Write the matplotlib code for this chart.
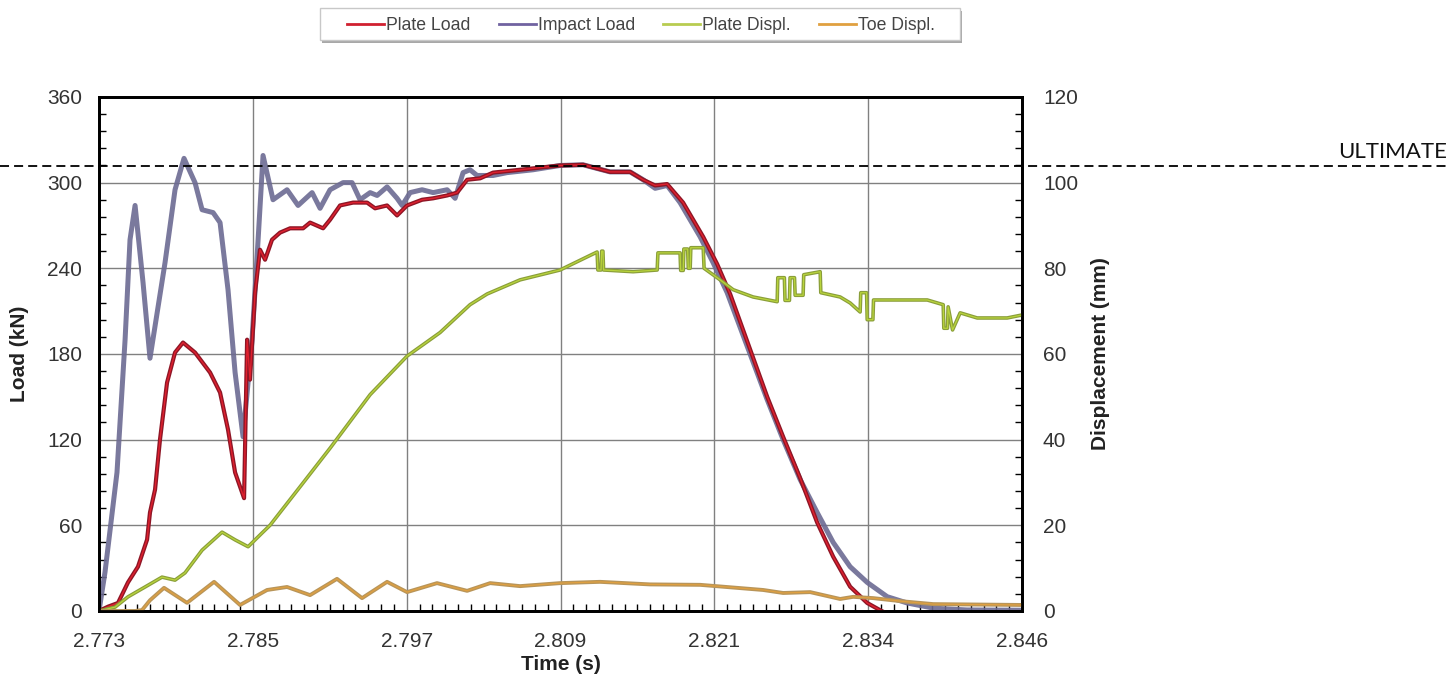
import numpy as np
import matplotlib.pyplot as plt
from matplotlib.patches import Rectangle
from matplotlib.ticker import FixedLocator, MultipleLocator
from matplotlib.transforms import blended_transform_factory, offset_copy

plt.rcParams["font.family"] = ["Liberation Sans", "DejaVu Sans"]

# ---- data ----
T_MIN, T_MAX = 2.773, 2.846
time_ticks = ["2.773", "2.785", "2.797", "2.809", "2.821", "2.834", "2.846"]
ULTIMATE_KN = 311.5

impact_t = [2.7730, 2.77347, 2.77442, 2.77506, 2.77545, 2.77585, 2.77648, 2.77703,
            2.77822, 2.77901, 2.77972, 2.78059, 2.78115, 2.78202, 2.78257, 2.78320,
            2.78376, 2.78439, 2.78510, 2.78558, 2.78597, 2.78676, 2.78787, 2.78874,
            2.78985, 2.79048, 2.79127, 2.79230, 2.79301, 2.79364, 2.79444, 2.79499,
            2.79578, 2.79657, 2.79697, 2.79760, 2.79855, 2.79942, 2.80053, 2.80116,
            2.80179, 2.80234, 2.80290, 2.80416, 2.80527, 2.80733, 2.80946, 2.81128,
            2.81342, 2.81500, 2.81603, 2.81698, 2.81793, 2.81895, 2.82054, 2.82156,
            2.82267, 2.82584, 2.82710, 2.82845, 2.82979, 2.83106, 2.83240, 2.83375,
            2.83533, 2.83691, 2.83897, 2.84165, 2.8460]
impact_kn = [0, 27, 97, 190, 260, 284, 230, 177,
             244, 295, 317, 300, 281, 279, 272, 225,
             167, 122, 190, 260, 319, 288, 295, 284,
             293, 282, 295, 300, 300, 288, 293, 291,
             297, 289, 284, 293, 295, 293, 295, 289,
             307, 309, 305, 305, 307, 309, 312, 312.5,
             307.5, 307.5, 302, 296, 298, 286, 262, 244,
             223, 148, 120, 92, 69, 48, 31, 20,
             10, 5.6, 2, 0.7, 0.5]

plate_t = [2.7730, 2.77371, 2.77450, 2.77529, 2.77608, 2.77680, 2.77703, 2.77743,
           2.77782, 2.77838, 2.77901, 2.77964, 2.78059, 2.78178, 2.78257, 2.78320,
           2.78376, 2.78447, 2.78471, 2.78494, 2.78534, 2.78573, 2.78613, 2.78668,
           2.78732, 2.78811, 2.78914, 2.78969, 2.79072, 2.79127, 2.79206, 2.79309,
           2.79420, 2.79483, 2.79578, 2.79657, 2.79736, 2.79855, 2.79942, 2.80053,
           2.80132, 2.80211, 2.80314, 2.80416, 2.80630, 2.80946, 2.81128, 2.81342,
           2.81500, 2.81603, 2.81698, 2.81793, 2.81919, 2.82078, 2.82188, 2.82291,
           2.82584, 2.82710, 2.82845, 2.82979, 2.83106, 2.83240, 2.83375, 2.83478,
           2.83556]
plate_kn = [0, 3, 5.6, 20, 31, 50, 69, 85,
            120, 160, 181, 188, 181, 167, 153, 127,
            97, 79, 190, 162, 223, 253, 246, 260,
            265, 268, 268, 272, 268, 274, 284, 286,
            286, 282, 284, 277, 284, 288, 289, 291,
            293, 302, 303, 307, 309, 312, 312.5, 307.5,
            307.5, 302, 298, 299, 286, 262, 243, 222,
            150, 122, 93, 62, 38, 17, 5.6, 0.5,
            -3]

plate_disp_t = [2.7730, 2.77427, 2.77529, 2.77664, 2.77798, 2.77901, 2.77980, 2.78115,
                2.78273, 2.78376, 2.78479, 2.78589, 2.78652, 2.78890, 2.79127, 2.79444,
                2.79736, 2.79997, 2.80234, 2.80369, 2.80630, 2.80946, 2.81239, 2.81245,
                2.81270, 2.81275, 2.81285, 2.81290, 2.81524, 2.81714, 2.81720, 2.81895,
                2.81900, 2.81920, 2.81925, 2.81955, 2.81960, 2.81975, 2.81980, 2.82078,
                2.82085, 2.82212, 2.82315, 2.82473, 2.82663, 2.82668, 2.82720, 2.82725,
                2.82760, 2.82765, 2.82800, 2.82805, 2.82868, 2.82873, 2.83003, 2.83008,
                2.83161, 2.83240, 2.83319, 2.83324, 2.83370, 2.83375, 2.83420, 2.83425,
                2.83850, 2.83976, 2.83981, 2.84010, 2.84015, 2.84050, 2.84110, 2.84245,
                2.84482, 2.8460]
plate_disp_mm = [0, 0.9, 3.3, 5.6, 7.9, 7.2, 8.9, 14.2,
                 18.4, 16.6, 15.0, 18.2, 20, 29, 38, 50.5,
                 59.5, 65, 71.5, 74, 77.3, 79.6, 83.8, 79.6,
                 79.6, 84, 84, 79.6, 79.2, 79.6, 83.6, 83.6,
                 79.5, 79.5, 84.5, 84.5, 80, 80, 84.8, 84.8,
                 80, 77.3, 75, 73.3, 72.2, 77.8, 77.8, 72.5,
                 72.5, 77.8, 77.8, 73.7, 73.7, 78.5, 79.2, 74.3,
                 73.3, 71.9, 69.8, 74.3, 74.3, 68, 68, 72.6,
                 72.6, 71.5, 66, 66, 71, 65.6, 69.6, 68.4,
                 68.4, 69.1]

toe_t = [2.7730, 2.77585, 2.77640, 2.77703, 2.77814, 2.77996, 2.78210, 2.78415,
         2.78629, 2.78787, 2.78969, 2.79182, 2.79380, 2.79578, 2.79736, 2.79973,
         2.80211, 2.80393, 2.80630, 2.80946, 2.81262, 2.81658, 2.82054, 2.82552,
         2.82710, 2.82924, 2.83161, 2.83264, 2.83422, 2.83636, 2.83897, 2.8460]
toe_mm = [0, 0, 0.2, 2.5, 5.4, 1.9, 6.8, 1.4,
          4.9, 5.6, 3.7, 7.5, 3.0, 6.8, 4.4, 6.5,
          4.7, 6.5, 5.8, 6.5, 6.8, 6.2, 6.1, 4.9,
          4.2, 4.4, 2.8, 3.3, 3.0, 2.3, 1.6, 1.4]

# ---- figure ----
fig = plt.figure(figsize=(14.5, 6.76), dpi=100)
ax = fig.add_axes([0.0683, 0.0962, 0.6366, 0.7604])
ax2 = ax.twinx()

# load lines (left axis)
ax.plot(plate_t, plate_kn, color="#8e1626", lw=3.0, solid_joinstyle="round", zorder=3)
ax.plot(plate_t, plate_kn, color="#e0202e", lw=1.0, solid_joinstyle="round", zorder=3)
ax.plot(impact_t, impact_kn, color="#6c6a92", lw=3.6, alpha=0.9,
        solid_joinstyle="round", zorder=2)

# displacement lines (right axis)
ax2.plot(plate_disp_t, plate_disp_mm, color="#8a9e3a", lw=2.6, solid_joinstyle="round")
ax2.plot(plate_disp_t, plate_disp_mm, color="#b9d43c", lw=0.9, solid_joinstyle="round")
ax2.plot(toe_t, toe_mm, color="#b8955a", lw=2.8, solid_joinstyle="round")
ax2.plot(toe_t, toe_mm, color="#e0a040", lw=0.9, solid_joinstyle="round")

# axes limits / ticks
ax.set_xlim(T_MIN, T_MAX)
ax.set_ylim(0, 360)
ax2.set_ylim(0, 120)
major_x = np.linspace(T_MIN, T_MAX, len(time_ticks))
ax.xaxis.set_major_locator(FixedLocator(major_x))
ax.set_xticklabels(time_ticks)
ax.xaxis.set_minor_locator(FixedLocator(np.linspace(T_MIN, T_MAX, 73)))
ax.yaxis.set_major_locator(MultipleLocator(60))
ax.yaxis.set_minor_locator(MultipleLocator(12))
ax2.yaxis.set_major_locator(MultipleLocator(20))
ax2.yaxis.set_minor_locator(MultipleLocator(4))

ax.grid(True, which="major", color="#808080", lw=1.0)
ax.set_axisbelow(True)

for a in (ax, ax2):
    for s in a.spines.values():
        s.set_linewidth(2.0)
        s.set_color("black")

ax.tick_params(axis="both", which="major", length=0, labelsize=15,
               labelcolor="#333333")
ax.tick_params(axis="y", which="major", pad=12)
ax.tick_params(axis="x", which="major", pad=15)
ax.tick_params(axis="both", which="minor", direction="in", length=5, width=1,
               color="black")
ax2.tick_params(axis="y", which="major", length=0, labelsize=15,
                labelcolor="#333333", pad=15)
ax2.tick_params(axis="y", which="minor", direction="in", length=5, width=1,
                color="black")

ax.set_xlabel("Time (s)", fontsize=15, fontweight="bold", color="#222222", labelpad=3)
ax.set_ylabel("Load (kN)", fontsize=15, fontweight="bold", color="#222222", labelpad=13)
ax2.set_ylabel("Displacement (mm)", fontsize=15, fontweight="bold", color="#222222",
               labelpad=9)

# ultimate load line across the whole figure
trans = blended_transform_factory(fig.transFigure, ax.transData)
ax.plot([0, 1], [ULTIMATE_KN, ULTIMATE_KN], transform=trans, clip_on=False,
        color="black", lw=1.3, ls=(0, (5, 2.8)), zorder=5)
ax.text(0.998, ULTIMATE_KN, "ULTIMATE",
        transform=offset_copy(trans, fig=fig, y=6, units="points"),
        ha="right", va="baseline", fontsize=16, family=["Lato", "DejaVu Sans"],
        color="#111111")

# legend box with a small drop shadow, then the entries on top
box = (320 / 1450, 1 - 40 / 676, 640 / 1450, 32 / 676)
fig.patches.append(Rectangle((box[0] + 2 / 1450, box[1] - 3 / 676), box[2], box[3],
                             transform=fig.transFigure, facecolor="#a8a8a8",
                             edgecolor="none", zorder=0))
fig.patches.append(Rectangle(box[:2], box[2], box[3], transform=fig.transFigure,
                             facecolor="white", edgecolor="#c8c8c8", lw=1.0, zorder=1))
handles = [
    plt.Line2D([], [], color="#d02030", lw=2),
    plt.Line2D([], [], color="#7062a0", lw=2),
    plt.Line2D([], [], color="#b8cc50", lw=2),
    plt.Line2D([], [], color="#e0a040", lw=2),
]
labels = ["Plate Load", "Impact Load", "Plate Displ.", "Toe Displ."]
leg = fig.legend(handles, labels, loc="center", ncol=4, frameon=False,
                 bbox_to_anchor=(641 / 1450, 1 - 26 / 676),
                 fontsize=12.7, handlelength=2.1, handletextpad=0.1,
                 columnspacing=1.6, borderpad=0.2)
for txt in leg.get_texts():
    txt.set_color("#444444")

fig.savefig("out.png", dpi=100)
